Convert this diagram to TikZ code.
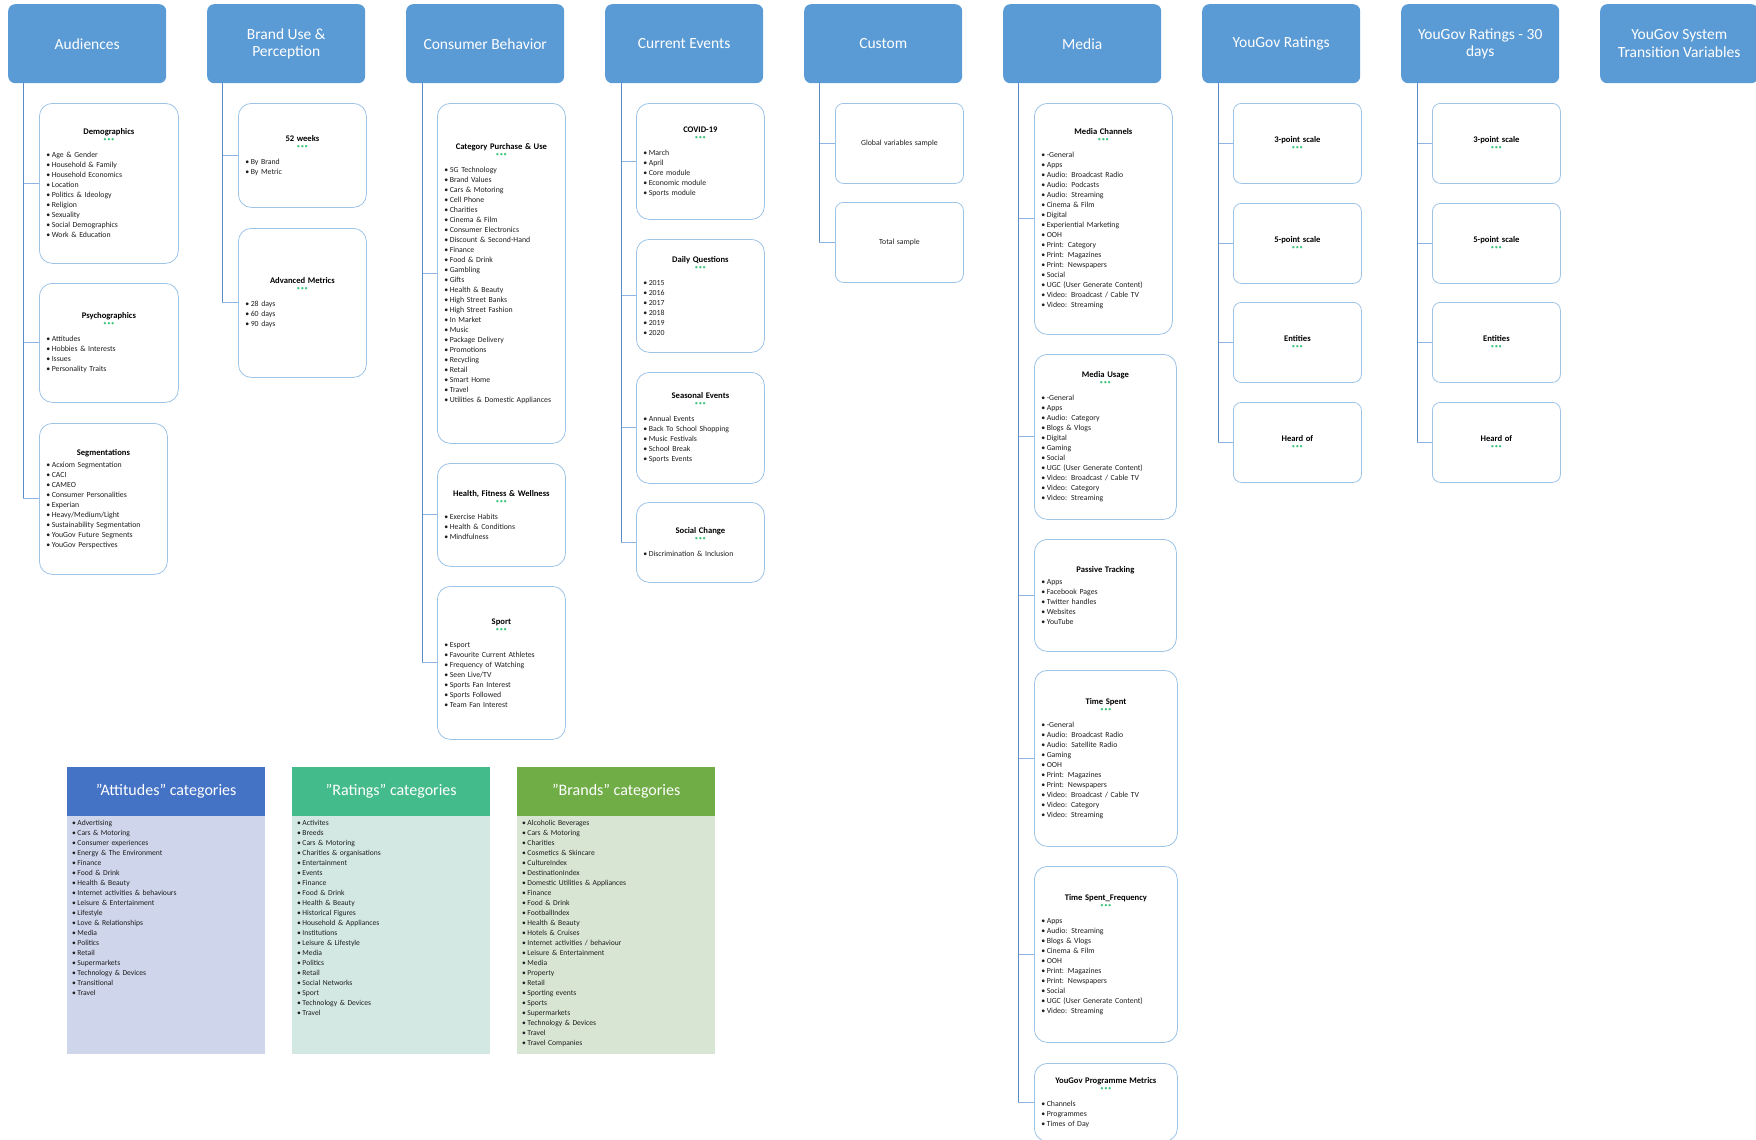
\documentclass[tikz,border=0pt]{standalone}
\usepackage{fontspec}
\setmainfont{Carlito}
\definecolor{headblue}{HTML}{5B9BD5}
\definecolor{boxline}{HTML}{9DC3E6}
\definecolor{trunkblue}{HTML}{5B8BC6}
\definecolor{branchblue}{HTML}{8EB4E3}
\definecolor{dotgreen}{HTML}{3CC47C}
\definecolor{itemgray}{HTML}{1E1E1E}
\definecolor{atthead}{HTML}{4472C4}
\definecolor{attbody}{HTML}{CFD5EA}
\definecolor{rathead}{HTML}{44BB8A}
\definecolor{ratbody}{HTML}{D3E8E3}
\definecolor{brdhead}{HTML}{70AD47}
\definecolor{brdbody}{HTML}{D9E5D3}

\newcommand{\boxtitle}[1]{{\centering\fontsize{8.6}{10}\selectfont\bfseries\color{black}#1\par}}
\newcommand{\dotsline}{{\centering\fontsize{6.5}{7}\selectfont\color{dotgreen}\textbullet\kern.6pt\textbullet\kern.6pt\textbullet\par}}
\newcommand{\greendots}{\dotsline\vspace{6pt}}
\newcommand{\bitem}[1]{\textbullet\kern1.5pt#1\par}

\tikzset{
  header/.style={fill=headblue, rounded corners=7pt, anchor=north west, inner sep=0pt,
    minimum width=158pt, minimum height=79pt, text=white, align=center,
    font=\fontsize{15.5}{17.5}\selectfont},
  listbox/.style={draw=boxline, line width=0.8pt, rounded corners=13pt, anchor=north west,
    align=left, inner xsep=7pt, inner ysep=2pt, text=itemgray, font=\fontsize{7.8}{10}\selectfont},
  smallbox/.style={listbox, rounded corners=8pt},
  dims/.style 2 args={text width=#1pt-14pt, minimum height=#2pt},
  trunk/.style={draw=trunkblue, line width=1pt},
  branch/.style={draw=branchblue, line width=1pt},
  cathead/.style={anchor=north west, inner sep=0pt, minimum width=198pt, minimum height=49pt,
    text=white, font=\fontsize{16}{18}\selectfont},
  catbody/.style={anchor=north west, inner sep=0pt, minimum width=198pt, minimum height=238pt},
  catlist/.style={anchor=north west, align=left, inner xsep=5pt, inner ysep=4pt, text width=186pt,
    text=itemgray, font=\fontsize{7.6}{10}\selectfont}
}

\begin{document}
\begin{tikzpicture}[x=1pt, y=-1pt]
\useasboundingbox (0,0) rectangle (1756,1140);

% column headers
\node[header] (hAud) at (8,4) {Audiences};
\node[header] (hBrand) at (207,4) {Brand Use \&\\Perception};
\node[header] (hCons) at (406,4) {Consumer Behavior};
\node[header] (hCurr) at (605,4) {Current Events};
\node[header] (hCust) at (804,4) {Custom};
\node[header] (hMedia) at (1003,4) {Media};
\node[header] (hRat) at (1202,4) {YouGov Ratings};
\node[header] (hRatM) at (1401,4) {YouGov Ratings - 30\\days};
\node[header] (hSys) at (1600,4) {YouGov System\\Transition Variables};

% Audiences
\node[listbox, dims={139}{160}] (aDemo) at (39,103) {\boxtitle{Demographics}\greendots
  \bitem{Age \& Gender}\bitem{Household \& Family}\bitem{Household Economics}\bitem{Location}
  \bitem{Politics \& Ideology}\bitem{Religion}\bitem{Sexuality}\bitem{Social Demographics}
  \bitem{Work \& Education}};
\node[listbox, dims={139}{119}] (aPsy) at (39,283) {\boxtitle{Psychographics}\greendots
  \bitem{Attitudes}\bitem{Hobbies \& Interests}\bitem{Issues}\bitem{Personality Traits}};
\node[listbox, dims={128}{151}] (aSeg) at (39,423) {\boxtitle{Segmentations}\vspace{2pt}
  \bitem{Acxiom Segmentation}\bitem{CACI}\bitem{CAMEO}\bitem{Consumer Personalities}
  \bitem{Experian}\bitem{Heavy/Medium/Light}\bitem{Sustainability Segmentation}
  \bitem{YouGov Future Segments}\bitem{YouGov Perspectives}};

% Brand Use & Perception
\node[listbox, dims={128}{104}] (bWeek) at (238,103) {\boxtitle{52 weeks}\greendots
  \bitem{By Brand}\bitem{By Metric}};
\node[listbox, dims={128}{149}] (bAdv) at (238,228) {\boxtitle{Advanced Metrics}\greendots
  \bitem{28 days}\bitem{60 days}\bitem{90 days}};

% Consumer Behavior
\node[listbox, dims={128}{340}] (cCat) at (437,103) {\boxtitle{Category Purchase \& Use}\greendots
  \bitem{5G Technology}\bitem{Brand Values}\bitem{Cars \& Motoring}\bitem{Cell Phone}
  \bitem{Charities}\bitem{Cinema \& Film}\bitem{Consumer Electronics}\bitem{Discount \& Second-Hand}
  \bitem{Finance}\bitem{Food \& Drink}\bitem{Gambling}\bitem{Gifts}\bitem{Health \& Beauty}
  \bitem{High Street Banks}\bitem{High Street Fashion}\bitem{In Market}\bitem{Music}
  \bitem{Package Delivery}\bitem{Promotions}\bitem{Recycling}\bitem{Retail}\bitem{Smart Home}
  \bitem{Travel}\bitem{Utilities \& Domestic Appliances}};
\node[listbox, dims={128}{103}] (cHealth) at (437,463) {\boxtitle{Health, Fitness \& Wellness}\greendots
  \bitem{Exercise Habits}\bitem{Health \& Conditions}\bitem{Mindfulness}};
\node[listbox, dims={128}{153}] (cSport) at (437,586) {\boxtitle{Sport}\greendots
  \bitem{Esport}\bitem{Favourite Current Athletes}\bitem{Frequency of Watching}\bitem{Seen Live/TV}
  \bitem{Sports Fan Interest}\bitem{Sports Followed}\bitem{Team Fan Interest}};

% Current Events
\node[listbox, dims={128}{116}] (dCovid) at (636,103) {\boxtitle{COVID-19}\greendots
  \bitem{March}\bitem{April}\bitem{Core module}\bitem{Economic module}\bitem{Sports module}};
\node[listbox, dims={128}{113}] (dDaily) at (636,239) {\boxtitle{Daily Questions}\greendots
  \bitem{2015}\bitem{2016}\bitem{2017}\bitem{2018}\bitem{2019}\bitem{2020}};
\node[listbox, dims={128}{111}] (dSeason) at (636,372) {\boxtitle{Seasonal Events}\greendots
  \bitem{Annual Events}\bitem{Back To School Shopping}\bitem{Music Festivals}\bitem{School Break}
  \bitem{Sports Events}};
\node[listbox, dims={128}{80}] (dSocial) at (636,502) {\boxtitle{Social Change}\greendots
  \bitem{Discrimination \& Inclusion}};

% Custom
\node[smallbox, dims={128}{80}] (eGlobal) at (835,103) {{\centering Global variables sample\par}};
\node[smallbox, dims={128}{80}] (eTotal) at (835,202) {{\centering Total sample\par}};

% Media
\node[listbox, dims={138}{231}] (fChan) at (1034,103) {\boxtitle{Media Channels}\greendots
  \bitem{-General}\bitem{Apps}\bitem{Audio: Broadcast Radio}\bitem{Audio: Podcasts}
  \bitem{Audio: Streaming}\bitem{Cinema \& Film}\bitem{Digital}\bitem{Experiential Marketing}
  \bitem{OOH}\bitem{Print: Category}\bitem{Print: Magazines}\bitem{Print: Newspapers}\bitem{Social}
  \bitem{UGC (User Generate Content)}\bitem{Video: Broadcast / Cable TV}\bitem{Video: Streaming}};
\node[listbox, dims={142}{165}] (fUsage) at (1034,354) {\boxtitle{Media Usage}\greendots
  \bitem{-General}\bitem{Apps}\bitem{Audio: Category}\bitem{Blogs \& Vlogs}\bitem{Digital}
  \bitem{Gaming}\bitem{Social}\bitem{UGC (User Generate Content)}\bitem{Video: Broadcast / Cable TV}
  \bitem{Video: Category}\bitem{Video: Streaming}};
\node[listbox, dims={142}{112}] (fPassive) at (1034,539) {\boxtitle{Passive Tracking}\vspace{2pt}
  \bitem{Apps}\bitem{Facebook Pages}\bitem{Twitter handles}\bitem{Websites}\bitem{YouTube}};
\node[listbox, dims={143}{176}] (fTime) at (1034,670) {\boxtitle{Time Spent}\greendots
  \bitem{-General}\bitem{Audio: Broadcast Radio}\bitem{Audio: Satellite Radio}\bitem{Gaming}
  \bitem{OOH}\bitem{Print: Magazines}\bitem{Print: Newspapers}\bitem{Video: Broadcast / Cable TV}
  \bitem{Video: Category}\bitem{Video: Streaming}};
\node[listbox, dims={143}{176}] (fFreq) at (1034,866) {\boxtitle{Time Spent\_Frequency}\greendots
  \bitem{Apps}\bitem{Audio: Streaming}\bitem{Blogs \& Vlogs}\bitem{Cinema \& Film}\bitem{OOH}
  \bitem{Print: Magazines}\bitem{Print: Newspapers}\bitem{Social}\bitem{UGC (User Generate Content)}
  \bitem{Video: Streaming}};
\node[listbox, dims={143}{78}] (fProg) at (1034,1063) {\boxtitle{YouGov Programme Metrics}\greendots
  \bitem{Channels}\bitem{Programmes}\bitem{Times of Day}};

% YouGov Ratings, both columns
\foreach \col/\x in {g/1233, h/1432} {
  \node[smallbox, dims={128}{80}] (\col1) at (\x,103) {\boxtitle{3-point scale}\dotsline};
  \node[smallbox, dims={128}{80}] (\col2) at (\x,203) {\boxtitle{5-point scale}\dotsline};
  \node[smallbox, dims={128}{80}] (\col3) at (\x,302) {\boxtitle{Entities}\dotsline};
  \node[smallbox, dims={128}{80}] (\col4) at (\x,402) {\boxtitle{Heard of}\dotsline};
}

% trunks and branches
\coordinate (tAud) at ([xshift=15pt]hAud.south west);
\coordinate (tBrand) at ([xshift=15pt]hBrand.south west);
\coordinate (tCons) at ([xshift=16pt]hCons.south west);
\coordinate (tCurr) at ([xshift=16pt]hCurr.south west);
\coordinate (tCust) at ([xshift=15pt]hCust.south west);
\coordinate (tMedia) at ([xshift=15pt]hMedia.south west);
\coordinate (tRat) at ([xshift=16pt]hRat.south west);
\coordinate (tRatM) at ([xshift=16pt]hRatM.south west);
\foreach \t/\c in {tAud/aDemo, tAud/aPsy, tAud/aSeg, tBrand/bWeek, tBrand/bAdv,
    tCons/cCat, tCons/cHealth, tCons/cSport, tCurr/dCovid, tCurr/dDaily, tCurr/dSeason,
    tCurr/dSocial, tCust/eGlobal, tCust/eTotal, tMedia/fChan, tMedia/fUsage, tMedia/fPassive,
    tMedia/fTime, tMedia/fFreq, tMedia/fProg, tRat/g1, tRat/g2, tRat/g3, tRat/g4,
    tRatM/h1, tRatM/h2, tRatM/h3, tRatM/h4} {
  \draw[trunk] (\t) -- (\t |- \c.west);
  \draw[branch] (\t |- \c.west) -- (\c.west);
}

% category panels
\node[cathead, fill=atthead] (attHead) at (67,767) {"Attitudes" categories};
\node[catbody, fill=attbody] (attBody) at (67,816) {};
\node[catlist] (attList) at (attBody.north west) {\bitem{Advertising}\bitem{Cars \& Motoring}
  \bitem{Consumer experiences}\bitem{Energy \& The Environment}\bitem{Finance}\bitem{Food \& Drink}
  \bitem{Health \& Beauty}\bitem{Internet activities \& behaviours}\bitem{Leisure \& Entertainment}
  \bitem{Lifestyle}\bitem{Love \& Relationships}\bitem{Media}\bitem{Politics}\bitem{Retail}
  \bitem{Supermarkets}\bitem{Technology \& Devices}\bitem{Transitional}\bitem{Travel}};

\node[cathead, fill=rathead] (ratHead) at (292,767) {"Ratings" categories};
\node[catbody, fill=ratbody] (ratBody) at (292,816) {};
\node[catlist] (ratList) at (ratBody.north west) {\bitem{Activites}\bitem{Breeds}\bitem{Cars \& Motoring}
  \bitem{Charities \& organisations}\bitem{Entertainment}\bitem{Events}\bitem{Finance}
  \bitem{Food \& Drink}\bitem{Health \& Beauty}\bitem{Historical Figures}\bitem{Household \& Appliances}
  \bitem{Institutions}\bitem{Leisure \& Lifestyle}\bitem{Media}\bitem{Politics}\bitem{Retail}
  \bitem{Social Networks}\bitem{Sport}\bitem{Technology \& Devices}\bitem{Travel}};

\node[cathead, fill=brdhead] (brdHead) at (517,767) {"Brands" categories};
\node[catbody, fill=brdbody] (brdBody) at (517,816) {};
\node[catlist] (brdList) at (brdBody.north west) {\bitem{Alcoholic Beverages}\bitem{Cars \& Motoring}
  \bitem{Charities}\bitem{Cosmetics \& Skincare}\bitem{CultureIndex}\bitem{DestinationIndex}
  \bitem{Domestic Utilities \& Appliances}\bitem{Finance}\bitem{Food \& Drink}\bitem{FootballIndex}
  \bitem{Health \& Beauty}\bitem{Hotels \& Cruises}\bitem{Internet activities / behaviour}
  \bitem{Leisure \& Entertainment}\bitem{Media}\bitem{Property}\bitem{Retail}\bitem{Sporting events}
  \bitem{Sports}\bitem{Supermarkets}\bitem{Technology \& Devices}\bitem{Travel}\bitem{Travel Companies}};
\end{tikzpicture}
\end{document}
